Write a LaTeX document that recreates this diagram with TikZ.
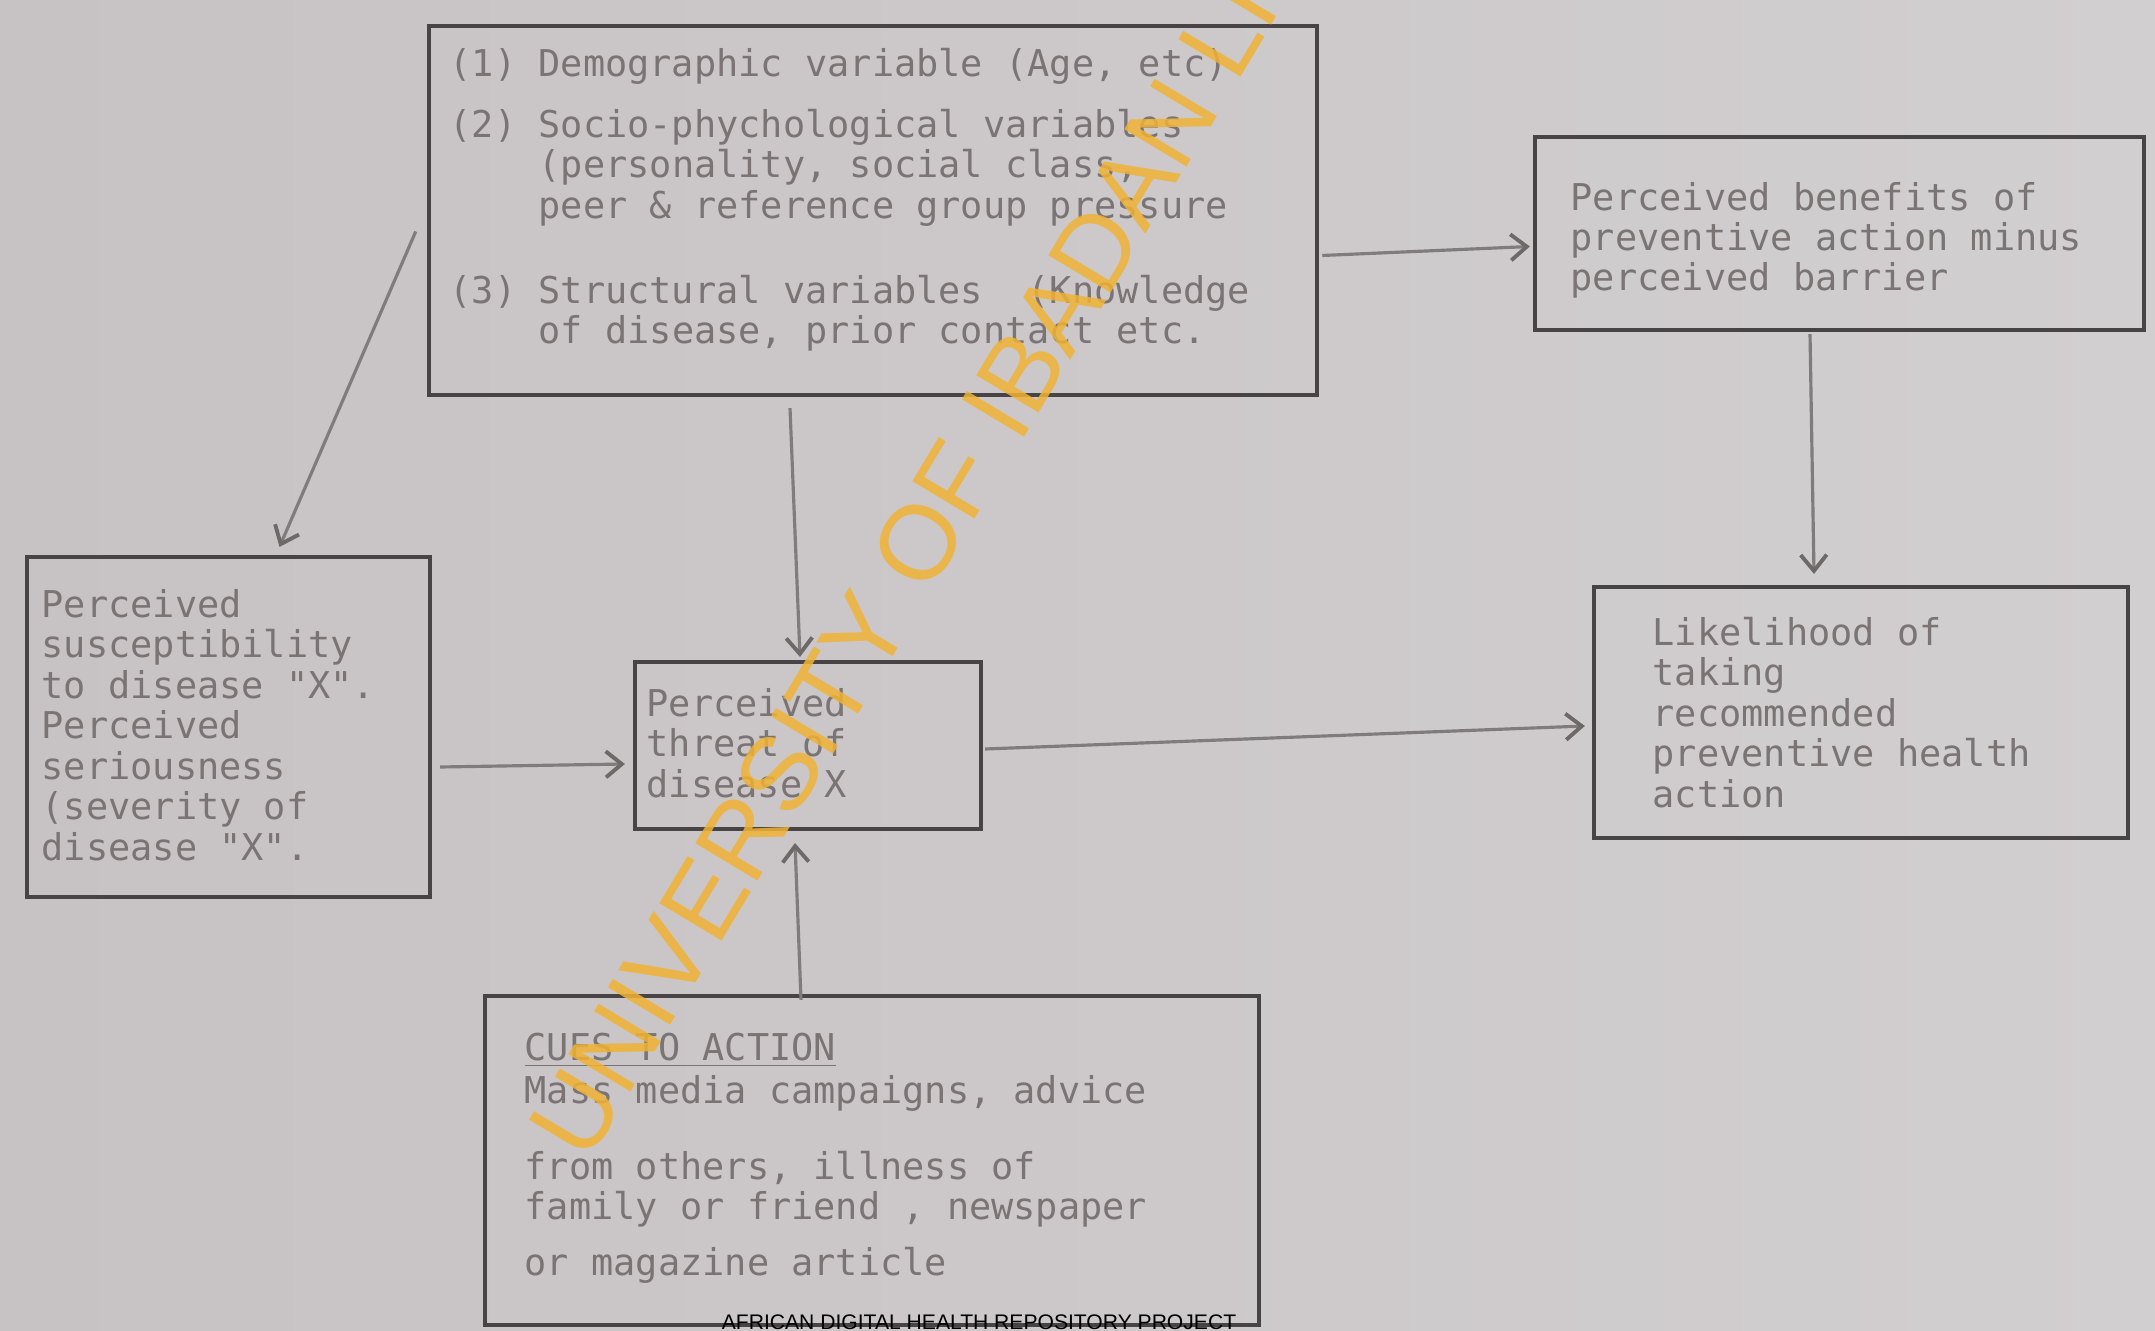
\documentclass[tikz,border=0pt]{standalone}
\usepackage{fontspec}
\usetikzlibrary{arrows.meta}
\newfontfamily\dotfont{DejaVu Sans Mono}
\newfontfamily\footfont{Liberation Sans}
\definecolor{paper}{RGB}{199,194,195}
\definecolor{paperlt}{RGB}{210,207,209}
\definecolor{frame}{RGB}{72,67,68}
\definecolor{ink}{RGB}{122,116,117}
\definecolor{stroke}{RGB}{128,123,124}
\definecolor{stamp}{RGB}{240,178,52}
\newcommand{\ind}{\hphantom{(2)\ }}

\begin{document}
\begin{tikzpicture}[>={Straight Barb[length=1.6mm,width=2.6mm,line width=1.1pt,color=frame!80]},x=0.01cm,y=-0.01cm,
  box/.style={rectangle,draw=frame,line width=1.1pt,inner sep=0pt,outer sep=0pt},
  txt/.style={anchor=base west,inner sep=0pt,align=left,text=ink,font=\dotfont\fontsize{10.5pt}{11.5pt}\selectfont},
  link/.style={->,draw=stroke,line width=0.9pt}]

\useasboundingbox (0,0) rectangle (2155,1331);
\clip (0,0) rectangle (2155,1331);
\shade[left color=paper,right color=paperlt] (0,0) rectangle (2155,1331);

\node(demo) at (873,210.5)[box,minimum width=8.88cm,minimum height=3.69cm] {};
\node(benefit) at (1839.5,233.5)[box,minimum width=6.09cm,minimum height=1.93cm] {};
\node(suscept) at (228.5,727)[box,minimum width=4.03cm,minimum height=3.40cm] {};
\node(threat) at (808,745.5)[box,minimum width=3.46cm,minimum height=1.67cm] {};
\node(likely) at (1861,712.5)[box,minimum width=5.34cm,minimum height=2.51cm] {};
\node(cues) at (872,1160.5)[box,minimum width=7.74cm,minimum height=3.29cm] {};

% text blocks, placed by the baseline of their last line
\node(demo-t) at (449,344)[txt] {(1) Demographic variable (Age, etc)\\[0.2cm]
(2) Socio-phychological variables\\
\ind(personality, social class,\\
\ind peer \& reference group pressure\\[0.45cm]
(3) Structural variables \ (Knowledge\\
\ind of disease, prior contact etc.};
\node(benefit-t) at (1570,291)[txt] {Perceived benefits of\\
preventive action minus\\
perceived barrier};
\node(suscept-t) at (41,860)[txt] {Perceived\\
susceptibility\\
to disease "X".\\
Perceived\\
seriousness\\
(severity of\\
disease "X".};
\node(threat-t) at (646,797)[txt] {Perceived\\
threat of\\
disease X};
\node(likely-t) at (1652,807)[txt] {Likelihood of\\
taking\\
recommended\\
preventive health\\
action};
\node(cues-t) at (524,1275)[txt] {\underline{CUES TO ACTION}\\[0.03cm]
Mass media campaigns, advice\\[0.35cm]
from others, illness of\\
family or friend , newspaper\\[0.15cm]
or magazine article};

\draw[link] ([shift={(-13,21)}]demo.west) -- ([shift={(51,-10)}]suscept.north);
\draw[link] ([shift={(-83,13)}]demo.south) -- ([shift={(-8,-5)}]threat.north);
\draw[link] ([shift={(5,45)}]demo.east) -- ([shift={(-5,13)}]benefit.west);
\draw[link] ([shift={(-29.5,4)}]benefit.south) -- ([shift={(-47,-13)}]likely.north);
\draw[link] ([shift={(10,40)}]suscept.east) -- ([shift={(-10,18.5)}]threat.west);
\draw[link] ([shift={(4,3.5)}]threat.east) -- ([shift={(-9,13.5)}]likely.west);
\draw[link] ([shift={(-71,4)}]cues.north) -- ([shift={(-13,14)}]threat.south);

\node(stamp) at (587,1165)[anchor=base west,rotate=59,inner sep=0pt,text=stamp,opacity=0.85,font=\footfont\fontsize{30pt}{30pt}\selectfont] {UNIVERSITY OF IBADAN LIBRARY};
\node(footer) at (979,1329)[anchor=base,inner sep=0pt,font=\footfont\fontsize{6pt}{6pt}\selectfont] {AFRICAN DIGITAL HEALTH REPOSITORY PROJECT};

\end{tikzpicture}
\end{document}
